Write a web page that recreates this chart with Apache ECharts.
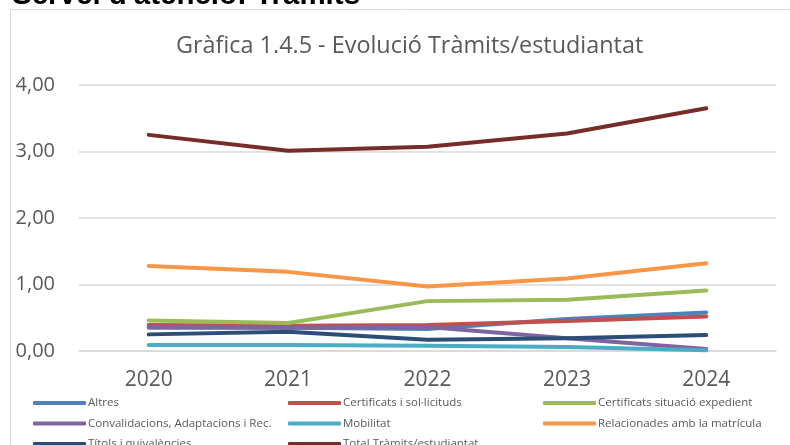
<!DOCTYPE html>
<html>
<head>
<meta charset="utf-8">
<script src="https://cdn.jsdelivr.net/npm/echarts@6/dist/echarts.min.js"></script>
<style>
  html, body { margin: 0; padding: 0; background: #fff; }
  #chart { width: 790px; height: 445px; }
</style>
</head>
<body>
<div id="chart"></div>
<script>
// dades llegides de la gràfica
var years = ['2020', '2021', '2022', '2023', '2024'];
var altres = [0.35, 0.35, 0.33, 0.48, 0.58];
var certSol = [0.39, 0.38, 0.39, 0.45, 0.52];
var certSit = [0.46, 0.42, 0.75, 0.77, 0.91];
var convalidacions = [0.36, 0.35, 0.36, 0.19, 0.03];
var mobilitat = [0.09, 0.09, 0.08, 0.06, 0.01];
var relacionades = [1.28, 1.19, 0.97, 1.09, 1.32];
var titols = [0.25, 0.29, 0.17, 0.19, 0.24];
var total = [3.25, 3.01, 3.07, 3.27, 3.65];
var yTicks = [0, 1, 2, 3, 4];

var font = '"Open Sans", sans-serif';

function serie(name, data, color) {
  return {
    name: name,
    type: 'line',
    data: data,
    symbol: 'none',
    lineStyle: { width: 4, color: color, cap: 'round', join: 'round' },
    itemStyle: { color: color }
  };
}

function legendCol(left, names) {
  return {
    orient: 'vertical',
    left: left,
    top: 392,
    height: 120,
    itemWidth: 53,
    itemHeight: 4,
    itemGap: 8.5,
    data: names,
    icon: 'roundRect',
    textStyle: { fontFamily: font, fontSize: 11.5, color: '#595959', padding: [0, 0, 0, -3] }
  };
}

var myChart = echarts.init(document.getElementById('chart'));
myChart.setOption({
  animation: false,
  backgroundColor: '#fff',
  graphic: [
    {
      type: 'rect',
      shape: { x: 10.5, y: 9.5, width: 800, height: 460 },
      style: { fill: 'none', stroke: '#d9d9d9', lineWidth: 1 },
      z: -1
    },
    {
      type: 'text',
      x: 12,
      y: -19.5,
      style: {
        text: "Servei d'atenció: Tràmits",
        font: 'bold 29.5px "Liberation Sans", Arial, sans-serif',
        fill: '#000',
        verticalAlign: 'top'
      }
    }
  ],
  title: {
    text: 'Gràfica 1.4.5 - Evolució Tràmits/estudiantat',
    left: 171,
    top: 30,
    textStyle: { fontFamily: font, fontSize: 23.4, fontWeight: 'normal', color: '#595959' }
  },
  legend: [
    legendCol(28, ['Altres', 'Convalidacions, Adaptacions i Rec.', 'Títols i quivalències']),
    legendCol(283, ['Certificats i sol·licituds', 'Mobilitat', 'Total Tràmits/estudiantat']),
    legendCol(538, ['Certificats situació expedient', 'Relacionades amb la matrícula'])
  ],
  grid: { left: 79, right: 14, top: 85, bottom: 94 },
  xAxis: {
    type: 'category',
    data: years,
    axisLine: { show: true, lineStyle: { color: '#d9d9d9', width: 1.5 } },
    axisTick: { show: false },
    axisLabel: { fontFamily: font, fontSize: 21, color: '#595959', margin: 19 }
  },
  yAxis: {
    type: 'value',
    min: yTicks[0],
    max: yTicks[yTicks.length - 1],
    interval: 1,
    axisLine: { show: false },
    axisTick: { show: false },
    splitLine: { lineStyle: { color: '#d9d9d9', width: 1.5 } },
    axisLabel: {
      fontFamily: font, fontSize: 20, color: '#595959', margin: 24,
      formatter: function (v) { return v.toFixed(2).replace('.', ','); }
    }
  },
  series: [
    serie('Altres', altres, '#4f81bd'),
    serie('Certificats i sol·licituds', certSol, '#c0504d'),
    serie('Certificats situació expedient', certSit, '#9bbb59'),
    serie('Convalidacions, Adaptacions i Rec.', convalidacions, '#8064a2'),
    serie('Mobilitat', mobilitat, '#4bacc6'),
    serie('Relacionades amb la matrícula', relacionades, '#f79646'),
    serie('Títols i quivalències', titols, '#2c4d75'),
    serie('Total Tràmits/estudiantat', total, '#772c2a')
  ]
});
</script>
</body>
</html>
